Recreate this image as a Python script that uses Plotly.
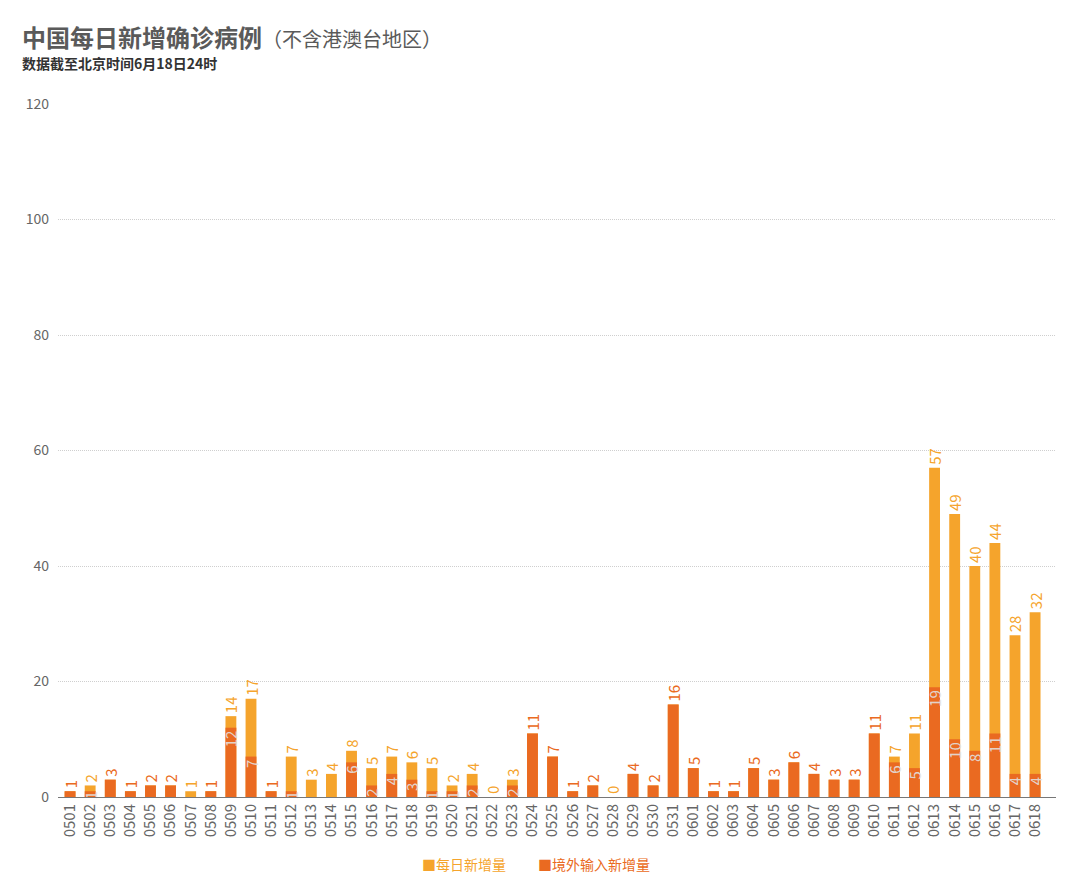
import plotly.graph_objects as go

dates = ["0501","0502","0503","0504","0505","0506","0507","0508","0509","0510",
         "0511","0512","0513","0514","0515","0516","0517","0518","0519","0520",
         "0521","0522","0523","0524","0525","0526","0527","0528","0529","0530",
         "0531","0601","0602","0603","0604","0605","0606","0607","0608","0609",
         "0610","0611","0612","0613","0614","0615","0616","0617","0618"]
daily_total = [1,2,3,1,2,2,1,1,14,17,
               1,7,3,4,8,5,7,6,5,2,
               4,0,3,11,7,1,2,0,4,2,
               16,5,1,1,5,3,6,4,3,3,
               11,7,11,57,49,40,44,28,32]
imported = [1,1,3,1,2,2,0,1,12,7,
            1,1,0,0,6,2,4,3,1,1,
            2,0,2,11,7,1,2,0,4,2,
            16,5,1,1,5,3,6,4,3,3,
            11,6,5,19,10,8,11,4,4]
y_ticks = [0, 20, 40, 60, 80, 100, 120]
series_names = ["每日新增量", "境外输入新增量"]

LIGHT = "#F5A42C"
DARK = "#EA6A21"
FONT = "Noto Sans CJK SC"

# page geometry (page is offset 8px by browser body margin)
ML, MT, PW, PH = 50, 96, 998, 693
def px(xp):  # screen x -> paper x
    return (xp - 8 - ML) / PW
def py(yp):  # screen y -> paper y
    return (MT + PH - (yp - 8)) / PH

total_label_colors = [DARK if (t == i and t > 0) else LIGHT for t, i in zip(daily_total, imported)]
imp_text = [str(i) if 0 < i < t else "" for t, i in zip(daily_total, imported)]

fig = go.Figure()
fig.add_trace(go.Bar(
    x=dates, y=daily_total, name=series_names[0], marker_color=LIGHT,
    marker_line_width=0,
    text=[str(v) for v in daily_total], textposition="outside", textangle=-90,
    textfont=dict(color=total_label_colors, size=15, family=FONT),
    constraintext="none", cliponaxis=False,
))
fig.add_trace(go.Bar(
    x=dates, y=imported, name=series_names[1], marker_color=DARK,
    marker_line_width=0,
    text=imp_text, textposition="inside", insidetextanchor="end", textangle=-90,
    insidetextfont=dict(color="rgba(225,225,225,0.9)", size=15, family=FONT),
    constraintext="none", cliponaxis=False,
))

fig.update_layout(
    width=1080, height=895,
    margin=dict(l=ML, r=1080 - ML - PW, t=MT, b=895 - MT - PH),
    paper_bgcolor="white", plot_bgcolor="white",
    barmode="overlay", bargap=0.46, showlegend=False,
    font=dict(family=FONT, color="#666"),
    xaxis=dict(
        type="category", range=[-0.6, 49.04],
        tickangle=-90, tickfont=dict(size=15, color="#666"),
        showline=True, linecolor="#777", linewidth=1,
        showgrid=False, ticks="", ticklen=0,
    ),
    yaxis=dict(
        range=[0, 120], tickvals=y_ticks,
        tickfont=dict(size=14, color="#666"),
        showgrid=True, gridcolor="#cfcfcf", griddash="1px,1px", gridwidth=1,
        zeroline=False, ticks="", ticklabelstandoff=8,
    ),
)

fig.add_annotation(
    text="<b>中国每日新增确诊病例</b><span style='font-size:20px'>（不含港澳台地区）</span>",
    xref="paper", yref="paper", x=px(20), y=py(36), xanchor="left", yanchor="middle",
    showarrow=False, font=dict(size=24, color="#5a5a5a", family=FONT),
)
fig.add_annotation(
    text="<b>数据截至北京时间6月18日24时</b>",
    xref="paper", yref="paper", x=px(20), y=py(63), xanchor="left", yanchor="middle",
    showarrow=False, font=dict(size=14, color="#333", family=FONT),
)
fig.add_annotation(
    text="■" + series_names[0],
    xref="paper", yref="paper", x=px(420), y=py(864), xanchor="left", yanchor="middle",
    showarrow=False, font=dict(size=14, color=LIGHT, family=FONT),
)
fig.add_annotation(
    text="■" + series_names[1],
    xref="paper", yref="paper", x=px(536), y=py(864), xanchor="left", yanchor="middle",
    showarrow=False, font=dict(size=14, color=DARK, family=FONT),
)

fig.write_html("out.html")
